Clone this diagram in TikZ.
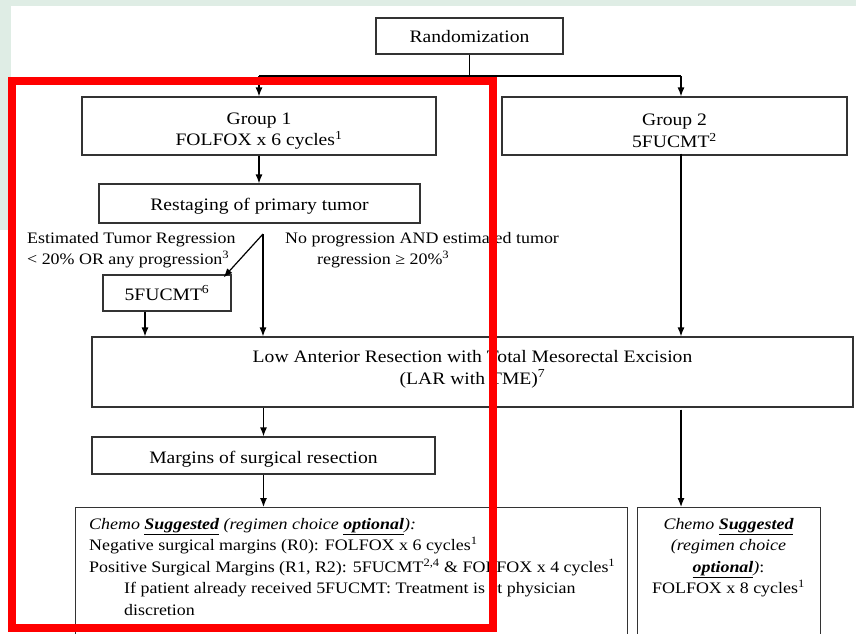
\documentclass[tikz,border=0pt]{standalone}
\usepackage{fontspec}
\setmainfont[FakeStretch=1.12]{Liberation Serif}
\usepackage{tikz}
\usetikzlibrary{arrows.meta}
\definecolor{bgreen}{RGB}{223,237,229}
\tikzset{box/.style={draw=black!80, line width=1.2pt, inner sep=0pt}}
\tikzset{txt/.style={inner sep=0pt, align=center, font=\fontsize{17.5}{21.7}\selectfont}}
\tikzset{arr/.style={-{Latex[length=9pt,width=7pt]}, line width=1.2pt}}
\tikzset{lbl/.style={inner sep=0pt, align=left}}
\begin{document}
\begin{tikzpicture}[x=1pt,y=-1pt,font=\fontsize{16}{21.5}\selectfont]
\useasboundingbox (0,0) rectangle (856,633);
\clip (0,0) rectangle (856,633);
\fill[white] (0,0) rectangle (856,633);
\fill[bgreen] (0,0) rectangle (856,6);
\fill[bgreen] (0,0) rectangle (11,230);
% boxes
\node[box, minimum width=187pt, minimum height=36pt,
  label={[txt, yshift=-1pt]center:Randomization}] (rand) at (469.5,36) {};
\node[box, minimum width=354pt, minimum height=58pt,
  label={[txt, yshift=-5pt]center:{Group 1\\FOLFOX x 6 cycles\textsuperscript{1}}}] (grp1) at (259,126) {};
\node[box, minimum width=345pt, minimum height=58pt,
  label={[txt, yshift=-5pt]center:{Group 2\\5FUCMT\textsuperscript{2}}}] (grp2) at (674.5,126) {};
\node[box, minimum width=321pt, minimum height=39pt,
  label={[txt, yshift=-3pt]center:Restaging of primary tumor}] (restage) at (259.5,203.5) {};
\node[box, minimum width=128pt, minimum height=36pt,
  label={[txt]center:5FUCMT\textsuperscript{6}}] (fu6) at (167,293) {};
\node[box, minimum width=761pt, minimum height=70pt,
  label={[txt, yshift=3pt]center:{Low Anterior Resection with Total Mesorectal Excision\\(LAR with TME)\textsuperscript{7}}}] (lar) at (472.5,372) {};
\node[box, minimum width=343pt, minimum height=37pt,
  label={[txt, yshift=-4pt]center:Margins of surgical resection}] (margins) at (263.5,455.5) {};
\node[box, minimum width=552pt, minimum height=160pt, anchor=north west] (chemo1) at (75,507) {};
\node[box, minimum width=183pt, minimum height=160pt, anchor=north west] (chemo2) at (637,507) {};
% labels
\node[lbl, anchor=north west] (regless) at (27,232) {Estimated Tumor Regression\\< 20\% OR any progression\textsuperscript{3}};
\node[lbl, anchor=north west] (regmore) at (285,232) {No progression AND estimated tumor\\\hspace*{32pt}regression ≥ 20\%\textsuperscript{3}};
\node[lbl, anchor=north west] (chemo1txt) at (89,518) {\textit{Chemo \underline{\textbf{Suggested}} (regimen choice \underline{\textbf{optional}}):}\\
Negative surgical margins (R0): FOLFOX x 6 cycles\textsuperscript{1}\\
Positive Surgical Margins (R1, R2): 5FUCMT\textsuperscript{2,4} \& FOLFOX x 4 cycles\textsuperscript{1}\\
\hspace*{35pt}If patient already received 5FUCMT: Treatment is at physician\\
\hspace*{35pt}discretion};
\node[lbl, align=center, anchor=north] (chemo2txt) at (728.5,518) {\textit{Chemo \underline{\textbf{Suggested}}}\\\textit{(regimen choice}\\\textit{\underline{\textbf{optional}})}:\\FOLFOX x 8 cycles\textsuperscript{1}};
% connectors
\coordinate (left) at (259,76);
\coordinate (right) at (681,76);
\coordinate (split) at (263,234);
\coordinate (fuleg) at ([xshift=-22pt]fu6.south);
\draw[line width=1.2pt] (rand.south) -- (rand.south |- left);
\draw[line width=1.2pt] (left) -- (right);
\draw[arr] (left) -- (grp1.north);
\draw[arr] (right) -- (right |- grp2.north);
\draw[arr] (grp1.south) -- (grp1.south |- restage.north);
\draw[arr] (split) -- ([shift={(-8,3)}]fu6.north east);
\draw[arr] (split) -- (split |- lar.north);
\draw[arr] (fuleg) -- (fuleg |- lar.north);
\draw[arr] ([yshift=2pt]right |- grp2.south) -- (right |- lar.north);
\draw[arr] (margins.north |- lar.south) -- (margins.north);
\draw[arr] (margins.south) -- (margins.south |- chemo1.north);
\draw[arr] ([yshift=-2pt]right |- lar.south) -- (right |- chemo2.north);
% highlight
\draw[red, line width=8pt] (12,81) rectangle (493,628);
\end{tikzpicture}
\end{document}
